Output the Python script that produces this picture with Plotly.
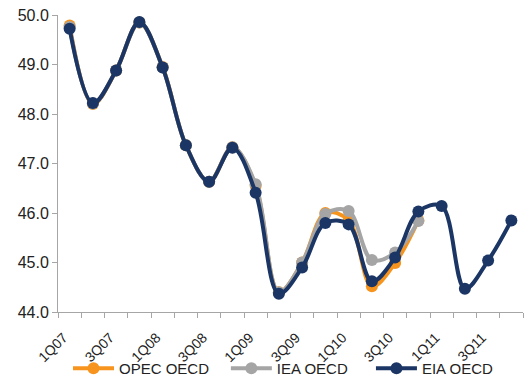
import plotly.graph_objects as go

quarters = ["1Q07", "2Q07", "3Q07", "4Q07", "1Q08", "2Q08", "3Q08", "4Q08",
            "1Q09", "2Q09", "3Q09", "4Q09", "1Q10", "2Q10", "3Q10", "4Q10",
            "1Q11", "2Q11", "3Q11", "4Q11"]

opec_oecd = [49.79, 48.20, 48.88, 49.85, 48.95, 47.37, 46.63, 47.33, 46.55, 44.40,
             45.00, 46.00, 45.85, 44.52, 44.99, 45.85]
iea_oecd = [49.76, 48.21, 48.88, 49.85, 48.94, 47.37, 46.63, 47.33, 46.58, 44.40,
            45.00, 45.98, 46.04, 45.05, 45.20, 45.84]
eia_oecd = [49.72, 48.22, 48.88, 49.86, 48.94, 47.37, 46.63, 47.32, 46.41, 44.37,
            44.90, 45.80, 45.77, 44.62, 45.10, 46.03, 46.14, 44.47, 45.04, 45.85]

series = [
    ("OPEC OECD", opec_oecd, "#F7941D", "legend", 0.0215),
    ("IEA OECD", iea_oecd, "#A5A5A5", "legend2", 0.361),
    ("EIA OECD", eia_oecd, "#1B3664", "legend3", 0.673),
]

font = "Arial, Liberation Sans, sans-serif"
fig = go.Figure()
legends = {}
for name, vals, color, leg, lx in series:
    idx = list(range(len(vals)))
    fig.add_trace(go.Scatter(
        x=idx, y=vals, name=name, mode="lines+markers", legend=leg,
        line=dict(color=color, width=4, shape="spline", smoothing=1.0),
        marker=dict(color=color, size=12),
    ))
    legends[leg] = dict(orientation="h", x=lx, xanchor="left",
                        yref="container", y=-0.016, yanchor="bottom",
                        itemwidth=41, bgcolor="rgba(0,0,0,0)",
                        font=dict(family=font, size=15, color="#222222"))

fig.update_layout(
    width=524, height=385,
    margin=dict(l=58, r=1, t=15, b=73, autoexpand=False),
    paper_bgcolor="white", plot_bgcolor="white",
    font=dict(family=font, size=13, color="#222222"),
    showlegend=True,
    **legends,
)
fig.update_xaxes(
    range=[-0.5, len(quarters) - 0.5],
    tickmode="array",
    tickvals=list(range(0, len(quarters), 2)),
    ticktext=quarters[::2],
    tickangle=-45, automargin=False,
    ticks="", showgrid=False, zeroline=False,
    showline=True, linecolor="#A6A6A6", linewidth=1,
    ticklabelstandoff=11, ticklabelshift=-6,
    tickfont=dict(family=font, size=14, color="#222222"),
    minor=dict(tick0=-0.5, dtick=1, ticks="outside", ticklen=5,
               tickcolor="#A6A6A6", showgrid=False),
)
fig.update_yaxes(
    range=[44, 50], dtick=1, tickformat=".1f", automargin=False,
    ticks="outside", ticklen=5, tickcolor="#A6A6A6",
    showgrid=False, zeroline=False,
    showline=True, linecolor="#A6A6A6", linewidth=1,
    tickfont=dict(family=font, size=16, color="#222222"),
)

fig.write_html("out.html")
